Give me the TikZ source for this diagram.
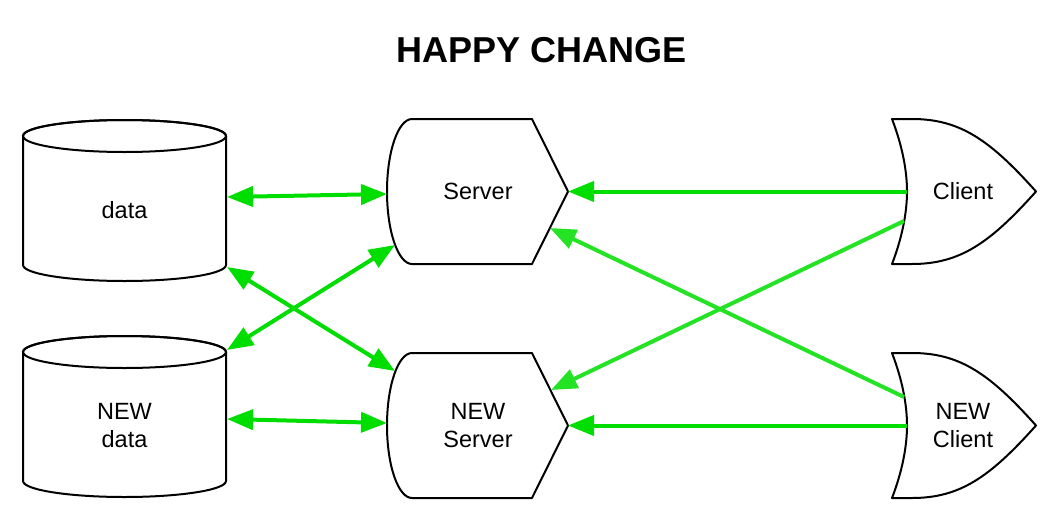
\documentclass[tikz,border=0pt]{standalone}
\usepackage{fontspec}
\setmainfont{Liberation Sans}
\usetikzlibrary{arrows.meta}
\definecolor{gA}{RGB}{0,221,0}
\definecolor{gB}{RGB}{36,226,36}
\begin{document}
\begin{tikzpicture}[x=1pt,y=-1pt,
  shapeline/.style={draw=black,line width=2pt,line join=round,fill=white},
  lbl/.style={font=\fontsize{23.5}{28}\selectfont,align=center,inner sep=0pt},
  ttl/.style={font=\fontsize{36}{42}\selectfont\bfseries,inner sep=0pt},
  biarrow/.style={line width=4pt,draw=gA,{Triangle[length=26pt,width=20pt]}-{Triangle[length=26pt,width=20pt]}},
  onearrow/.style={line width=4pt,draw=#1,-{Triangle[length=26pt,width=20pt]}},
  server/.pic={
    \path[shapeline] (0,-72.5) -- (120,-72.5) -- (156,0) -- (120,72.5) -- (0,72.5)
      .. controls (-13.8,72.5) and (-25,40) .. (-25,0)
      .. controls (-25,-40) and (-13.8,-72.5) .. (0,-72.5) -- cycle;
  },
  client/.pic={
    \path[shapeline] (0,-72.5) -- (20,-72.5)
      .. controls (68,-72.5) and (98,-51.5) .. (144,0)
      .. controls (98,51.5) and (68,72.5) .. (20,72.5) -- (0,72.5)
      .. controls (10,46.5) and (15,21.5) .. (15,0)
      .. controls (15,-21.5) and (10,-46.5) .. (0,-72.5) -- cycle;
  },
  database/.pic={
    \path[shapeline] (-101.5,0) -- (-101.5,129)
      .. controls (-101.5,137.8) and (-56,145) .. (0,145)
      .. controls (56,145) and (101.5,137.8) .. (101.5,129) -- (101.5,0)
      .. controls (101.5,-8.8) and (56,-16) .. (0,-16)
      .. controls (-56,-16) and (-101.5,-8.8) .. (-101.5,0) -- cycle;
    \draw[line width=2pt] (0,0) ellipse [x radius=101.5, y radius=16];
  }
]
\useasboundingbox (0,0) rectangle (1058,520);

% shapes
\pic at (124.5,136) {database};
\pic at (124.5,352) {database};
\pic at (412,191.5) {server};
\pic at (412,425.5) {server};
\pic at (892,191.5) {client};
\pic at (892,425.5) {client};

% labels
\node[ttl] (title) at (542,50) {HAPPY CHANGE};
\node[lbl] (data) at (124.5,210) {data};
\node[lbl] (newdata) at (124.5,425.5) {NEW\\data};
\node[lbl] (server) at (478,191.5) {Server};
\node[lbl] (newserver) at (478,425.5) {NEW\\Server};
\node[lbl] (client) at (963,191.5) {Client};
\node[lbl] (newclient) at (963,425.5) {NEW\\Client};

% connector end points on the shape borders
\coordinate (dS) at (227,197);
\coordinate (sD) at (387,194);
\coordinate (dNS) at (227,267);
\coordinate (nsD) at (395,371);
\coordinate (ndS) at (227,350);
\coordinate (sND) at (395,245);
\coordinate (ndNS) at (227,419);
\coordinate (nsND) at (387,423);
\coordinate (cS) at (907,191.5);
\coordinate (sC) at (568,191.5);
\coordinate (cNS) at (904,221);
\coordinate (nsC) at (551,390);
\coordinate (ncS) at (904,397);
\coordinate (sNC) at (550,228);
\coordinate (ncNS) at (907,425.5);
\coordinate (nsNC) at (568,425.5);

% connectors
\draw[biarrow] (dS) -- (sD);
\draw[biarrow] (dNS) -- (nsD);
\draw[biarrow] (ndS) -- (sND);
\draw[biarrow] (ndNS) -- (nsND);
\draw[onearrow=gA] (cS) -- (sC);
\draw[onearrow=gB] (cNS) -- (nsC);
\draw[onearrow=gB] (ncS) -- (sNC);
\draw[onearrow=gA] (ncNS) -- (nsNC);
\end{tikzpicture}
\end{document}
